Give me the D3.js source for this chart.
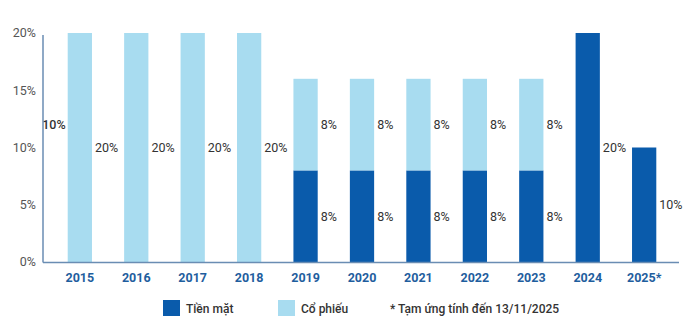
<!DOCTYPE html>
<html><head><meta charset="utf-8">
<script src="https://cdn.jsdelivr.net/npm/d3@7"></script>
<style>
html,body{margin:0;padding:0;background:#fff;}
svg{display:block;font-family:Roboto,"Noto Sans",sans-serif;}
</style></head>
<body><svg id="c" width="700" height="326"></svg>
<script>
const years = ["2015","2016","2017","2018","2019","2020","2021","2022","2023","2024","2025*"];
const cash  = [0,0,0,0,8,8,8,8,8,20,10];
const stock = [20,20,20,20,8,8,8,8,8,0,0];
const yTicks = [0,5,10,15,20];
const extraLabels = [{year:"2015", value:10, at:12}];
const legendItems = ["Tiền mặt","Cổ phiếu"];
const note = "* Tạm ứng tính đến 13/11/2025";

const colCash = "#0a5bab", colStock = "#a8dcf0";
const svg = d3.select("#c");
const x = d3.scaleBand().domain(years).range([44,680]).paddingInner(0.57).paddingOuter(0.42);
const y = d3.scaleLinear().domain([0,20]).range([262,33]);

// y axis labels
svg.append("g").selectAll("text").data(yTicks).join("text")
  .attr("x",36).attr("y",d=>y(d)).attr("dy","0.35em").attr("text-anchor","end")
  .attr("font-size",12.5).attr("fill","#555").text(d=>d+"%");

const g = svg.append("g");
years.forEach((yr,i)=>{
  const bx = x(yr), bw = x.bandwidth();
  if (cash[i]>0) g.append("rect").attr("x",bx).attr("width",bw).attr("y",y(cash[i])).attr("height",y(0)-y(cash[i])).attr("fill",colCash);
  if (stock[i]>0) g.append("rect").attr("x",bx).attr("width",bw).attr("y",y(cash[i]+stock[i])).attr("height",y(cash[i])-y(cash[i]+stock[i])).attr("fill",colStock);
  const lbl = (v,base)=> g.append("text").attr("x",bx+bw+3).attr("y",y(base+v/2)).attr("dy","0.35em")
      .attr("font-size",12.5).attr("font-weight",400).attr("fill","#333").text(v+"%");
  if (cash[i]>0) lbl(cash[i],0);
  if (stock[i]>0) lbl(stock[i],cash[i]);
});
extraLabels.forEach(e=>{
  g.append("text").attr("x",x(e.year)-2).attr("y",y(e.at)).attr("dy","0.35em").attr("text-anchor","end")
   .attr("font-size",12.5).attr("font-weight",500).attr("fill","#333").text(e.value+"%");
});

// axes lines
svg.append("line").attr("x1",43).attr("x2",43).attr("y1",y(20)+2).attr("y2",y(0)+0.5).attr("stroke","#6a8db3").attr("stroke-width",1.5);
svg.append("line").attr("x1",43).attr("x2",679).attr("y1",y(0)+0.5).attr("y2",y(0)+0.5).attr("stroke","#6a8db3").attr("stroke-width",1.5);

// x labels
svg.append("g").selectAll("text").data(years).join("text")
  .attr("x",d=>x(d)+x.bandwidth()/2).attr("y",282).attr("text-anchor","middle")
  .attr("font-size",12.5).attr("font-weight",700).attr("fill","#1f5e9e").text(d=>d);

// legend
const lg = svg.append("g");
const lx = [163,278];
legendItems.forEach((t,i)=>{
  lg.append("rect").attr("x",lx[i]).attr("y",300).attr("width",17).attr("height",16).attr("fill",i===0?colCash:colStock);
  lg.append("text").attr("x",lx[i]+23).attr("y",312.5).attr("font-size",12).attr("font-weight",500).attr("fill","#333").text(t);
});
lg.append("text").attr("x",390).attr("y",312.5).attr("font-size",12).attr("font-weight",500).attr("fill","#333").text(note);
</script></body></html>
